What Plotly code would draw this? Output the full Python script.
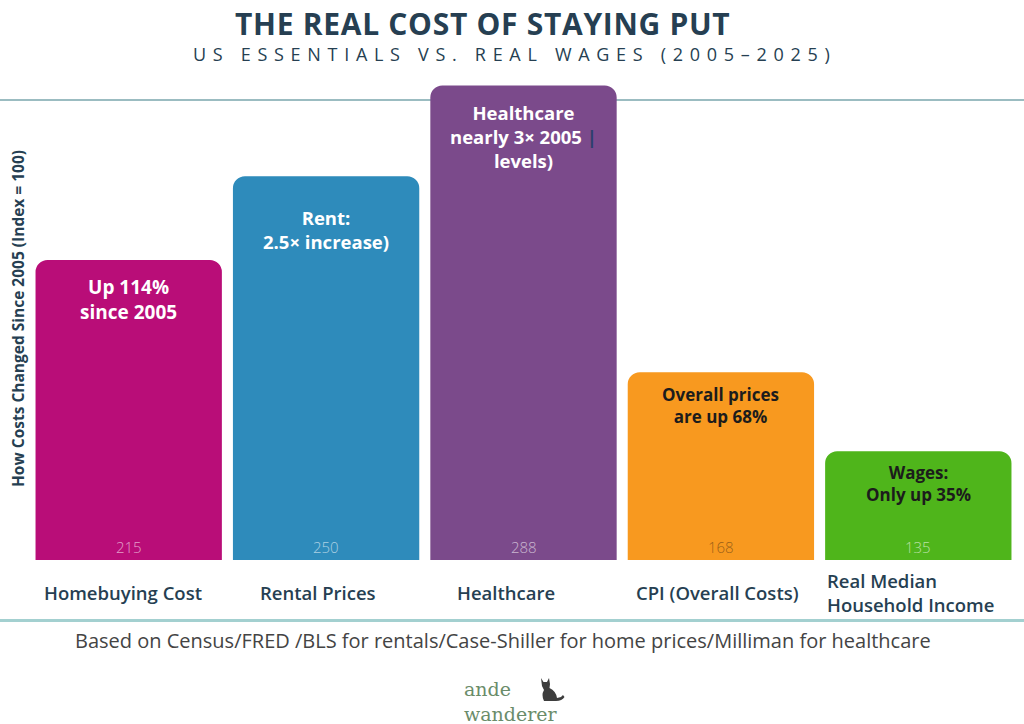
import plotly.graph_objects as go

categories = ["Homebuying Cost", "Rental Prices", "Healthcare", "CPI (Overall Costs)", "Real Median<br>Household Income"]
index_values = [215, 250, 288, 168, 135]
bar_notes = ["Up 114%<br>since 2005", "Rent:<br>2.5× increase)",
             "Healthcare<br>nearly 3× 2005 <span style='color:#2b3f6b'>|</span><br>levels)",
             "Overall prices<br>are up 68%", "Wages:<br>Only up 35%"]

colors = ["#b90d78", "#2e8bbb", "#7b4a8b", "#f8991f", "#4fb51b"]
note_colors = ["white", "white", "white", "#1c1c1c", "#1c1c1c"]
note_offsets = [12, 27, 12, 9, 8]
note_sizes = [19, 18.5, 18.5, 17, 17]
value_colors = ["rgba(255,255,255,0.6)", "rgba(255,255,255,0.6)", "rgba(255,255,255,0.6)",
                "rgba(110,70,20,0.7)", "rgba(255,255,255,0.6)"]
label_shift = [-6, -8, -18, -3, -93]

Y_MIN, Y_MAX = 89.5, 290.3
DARK = "#263f52"
W, H = 1024, 724
L, R, T, B = 30, 7, 80, 164
PW, PH = W - L - R, H - T - B


def pxx(X):
    return (X - L) / PW


def pxy(Y):
    return (H - B - Y) / PH


fig = go.Figure()
fig.add_trace(go.Bar(
    x=categories, y=index_values,
    marker=dict(color=colors, line=dict(width=0)),
    hoverinfo="skip", showlegend=False,
))

for c, v, note, nc, off, ns, vc, ls in zip(categories, index_values, bar_notes, note_colors,
                                            note_offsets, note_sizes, value_colors, label_shift):
    fig.add_annotation(x=c, y=v, xref="x", yref="y", yanchor="top", yshift=-off,
                       text=f"<b>{note}</b>", showarrow=False,
                       font=dict(family="Open Sans", size=ns, color=nc))
    fig.add_annotation(x=c, y=Y_MIN, xref="x", yref="y", yanchor="bottom", yshift=1,
                       text=str(v), showarrow=False,
                       font=dict(family="Open Sans", size=15, color=vc, weight=300))
    fig.add_annotation(x=c, y=pxy(592), xref="x", yref="paper", yanchor="middle", xshift=ls,
                       text=c, showarrow=False, align="left",
                       xanchor="left" if "<br>" in c else "center",
                       font=dict(family="Open Sans", size=18.5, color=DARK, weight=600))

# titles and footer
fig.add_annotation(text="<span style='letter-spacing:0.7px'><b>THE REAL COST OF STAYING PUT</b></span>",
                   showarrow=False,
                   x=pxx(482), y=pxy(23), xref="paper", yref="paper", xanchor="center", yanchor="middle",
                   font=dict(family="Open Sans", size=30, color=DARK))
fig.add_annotation(text="<span style='letter-spacing:6.7px'>US ESSENTIALS VS. REAL WAGES (2005–2025)</span>",
                   showarrow=False, x=pxx(514), y=pxy(54), xref="paper", yref="paper",
                   xanchor="center", yanchor="middle",
                   font=dict(family="Open Sans", size=18, color=DARK))
fig.add_annotation(text="<b>How Costs Changed Since 2005 (Index = 100)</b>", showarrow=False, textangle=-90,
                   x=pxx(18), y=pxy(319), xref="paper", yref="paper", xanchor="center", yanchor="middle",
                   font=dict(family="Open Sans", size=15.5, color=DARK))
fig.add_annotation(text="Based on Census/FRED /BLS for rentals/Case-Shiller for home prices/Milliman for healthcare",
                   showarrow=False, x=pxx(503), y=pxy(640), xref="paper", yref="paper",
                   xanchor="center", yanchor="middle",
                   font=dict(family="Open Sans", size=20, color="#444444"))
fig.add_annotation(text="ande<br>wanderer", showarrow=False, x=pxx(462), y=pxy(701), xref="paper", yref="paper",
                   xanchor="left", yanchor="middle", align="left",
                   font=dict(family="DejaVu Serif", size=19, color="#6a8c6a"))

cat_pts = [("M", 541, 678), ("L", 543.5, 682), ("L", 547, 682), ("L", 549, 678), ("L", 550, 684),
           ("L", 549.5, 688), ("Q", 556, 691), ("", 557, 698), ("L", 561, 697), ("L", 563, 695),
           ("L", 564.5, 697), ("Q", 562, 701), ("", 556, 701), ("L", 544, 701), ("Q", 541, 695),
           ("", 544, 690), ("L", 542, 686)]
cat_path = " ".join(f"{cmd} {pxx(x):.5f},{pxy(y):.5f}" if cmd else f"{pxx(x):.5f},{pxy(y):.5f}"
                    for cmd, x, y in cat_pts) + " Z"

fig.update_layout(
    width=W, height=H,
    margin=dict(l=L, r=R, t=T, b=B),
    paper_bgcolor="white", plot_bgcolor="rgba(0,0,0,0)",
    bargap=0.056, barcornerradius=12,
    xaxis=dict(showticklabels=False, showgrid=False, zeroline=False, showline=False, ticks=""),
    yaxis=dict(range=[Y_MIN, Y_MAX], showticklabels=False, showgrid=False, zeroline=False,
               showline=False, ticks=""),
    shapes=[
        dict(type="line", xref="paper", yref="paper", x0=pxx(-5), x1=pxx(1030), y0=pxy(100), y1=pxy(100),
             line=dict(color="#7aa6ad", width=1.5), layer="below"),
        dict(type="line", xref="paper", yref="paper", x0=pxx(-5), x1=pxx(1030), y0=pxy(620.5), y1=pxy(620.5),
             line=dict(color="#a3d0d0", width=3)),
        dict(type="path", xref="paper", yref="paper", path=cat_path,
             fillcolor="#3d3d3d", line=dict(width=0)),
    ],
)

fig.write_html("out.html")
